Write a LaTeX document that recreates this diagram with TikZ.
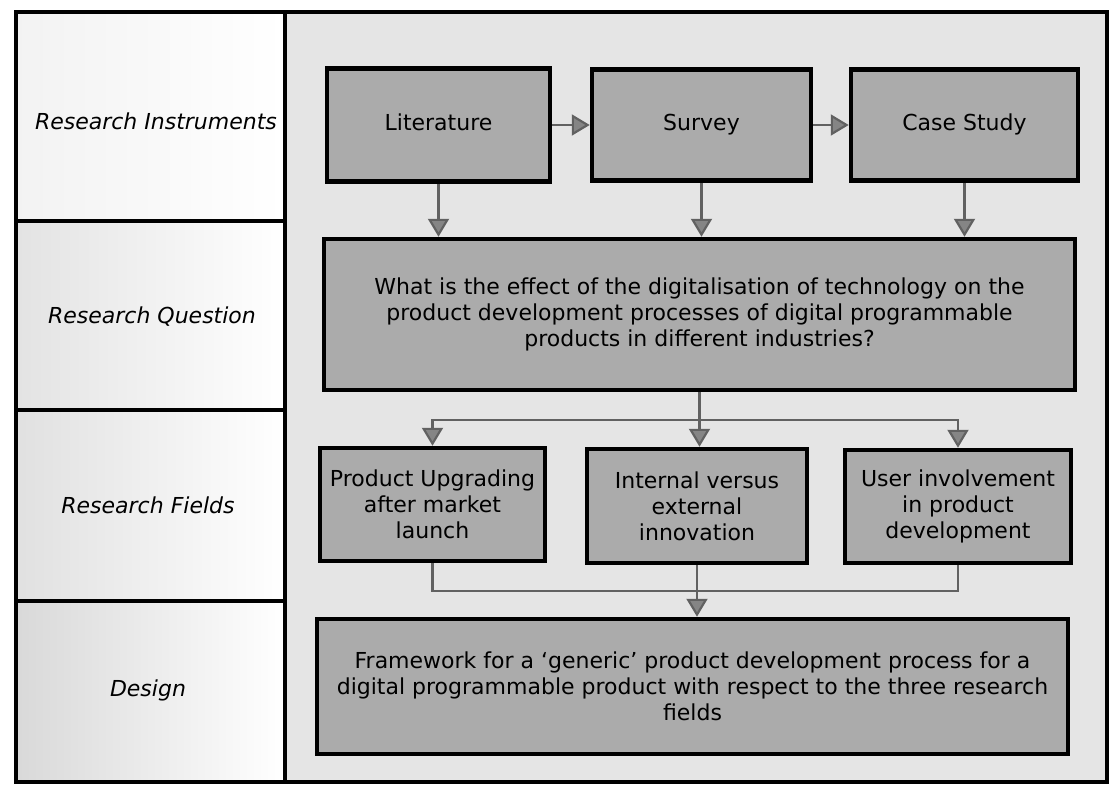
\documentclass[tikz,border=0pt]{standalone}
\usepackage{fontspec}
\setmainfont{DejaVu Sans}
\usetikzlibrary{arrows.meta}

\tikzset{
  stage/.style={draw=black, line width=4.5pt, fill=gray!66, align=center,
    inner sep=2pt, font=\fontsize{22}{26}\selectfont},
  rowlabel/.style={font=\fontsize{22}{26}\selectfont\itshape},
  cell/.style={draw=black, line width=3.5pt},
  link/.style={draw=black!62, line width=2.2pt},
  flow/.style={link, -{Triangle[width=21pt,length=18pt,fill=black!48]}},
}

\begin{document}
\begin{tikzpicture}[x=1pt, y=-1pt]
    \useasboundingbox (0,0) rectangle (1109,785);

    % Nền các ô
    \fill[gray!20] (285,12) rectangle (1107,782);
    \shade[left color=gray!10, right color=white] (16,12) rectangle (285,221);
    \shade[left color=gray!22, right color=white] (16,221) rectangle (285,410);
    \shade[left color=gray!24, right color=white] (16,410) rectangle (285,601);
    \shade[left color=gray!30, right color=white] (16,601) rectangle (285,782);

    % Khung và các đường chia
    \draw[cell] (16,12) rectangle (1107,782);
    \draw[cell] (285,12) -- (285,782);
    \draw[cell] (16,221) -- (285,221);
    \draw[cell] (16,410) -- (285,410);
    \draw[cell] (16,601) -- (285,601);

    % Tên các hàng
    \node[rowlabel] (rowinst) at (156,121) {Research Instruments};
    \node[rowlabel] (rowques) at (152,317) {Research Question};
    \node[rowlabel] (rowfield) at (148,505) {Research Fields};
    \node[rowlabel] (rowdes) at (148,690) {Design};

    % Các hộp
    \node[stage, minimum width=223pt, minimum height=113pt] (lit) at (438.5,125) {Literature\strut};
    \node[stage, minimum width=219pt, minimum height=111pt] (sur) at (701.5,125) {Survey\strut};
    \node[stage, minimum width=227pt, minimum height=111pt] (cas) at (964.5,125) {Case Study\strut};
    \node[stage, minimum width=751pt, minimum height=151pt] (ques) at (699.5,314.5)
        {What is the effect of the digitalisation of technology on the\\
         product development processes of digital programmable\\
         products in different industries?};
    \node[stage, minimum width=225pt, minimum height=113pt] (upg) at (432.5,504.5)
        {Product Upgrading\\after market\\launch};
    \node[stage, minimum width=220pt, minimum height=114pt] (inex) at (697,506)
        {Internal versus\\external\\innovation};
    \node[stage, minimum width=226pt, minimum height=113pt] (user) at (958,506.5)
        {User involvement\\in product\\development};
    \node[stage, minimum width=751pt, minimum height=135pt] (frame) at (692.5,686.5)
        {Framework for a `generic' product development process for a\\
         digital programmable product with respect to the three research\\
         fields};

    % Mũi tên
    \draw[flow] (lit.east) -- (sur.west);
    \draw[flow] (sur.east) -- (cas.west);
    \draw[flow] (lit.south) -- (lit.south |- ques.north);
    \draw[flow] (sur.south) -- (sur.south |- ques.north);
    \draw[flow] (cas.south) -- (cas.south |- ques.north);

    \coordinate (split) at (699.5,420);
    \draw[flow] (ques.south) -- (ques.south |- inex.north);
    \draw[flow] (split) -| (upg.north);
    \draw[flow] (split) -| (user.north);

    \coordinate (join) at (697,591);
    \draw[link] (upg.south) |- (join);
    \draw[link] (user.south) |- (join);
    \draw[flow] (inex.south) -- (join) -- (join |- frame.north);
\end{tikzpicture}
\end{document}
